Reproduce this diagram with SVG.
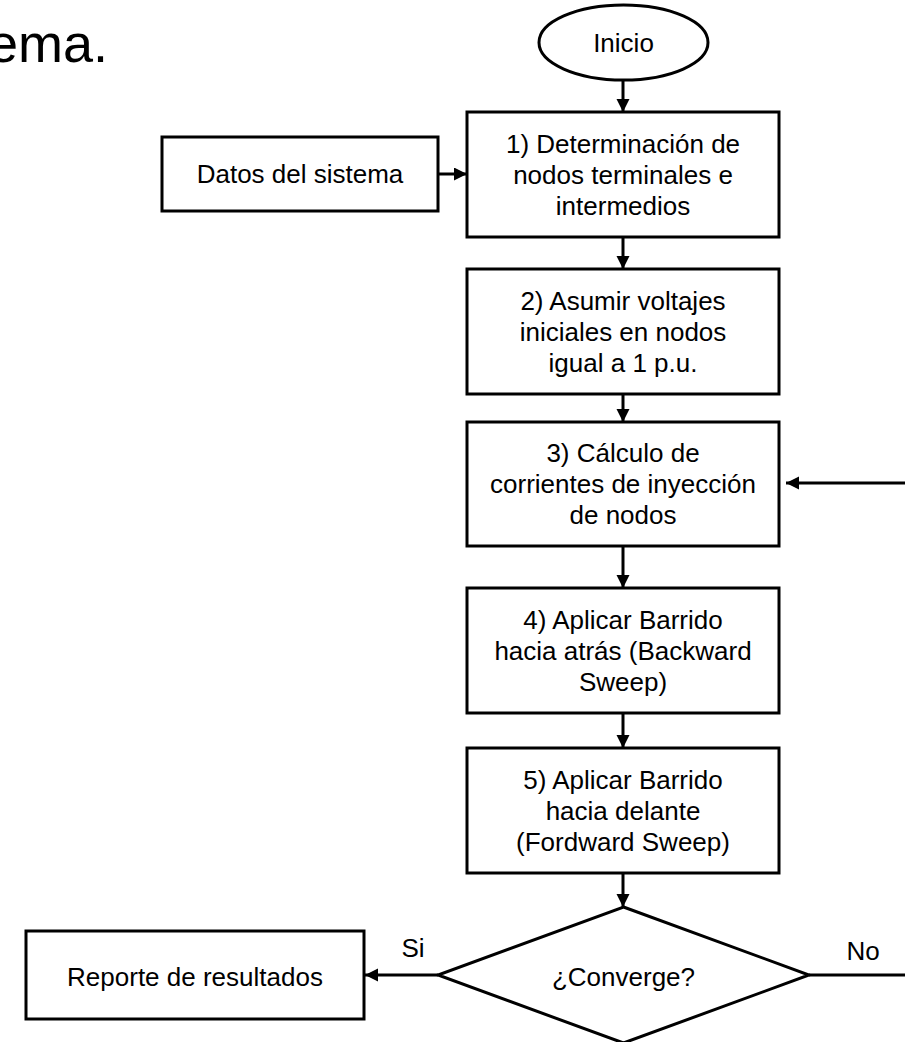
<svg xmlns="http://www.w3.org/2000/svg" width="905" height="1042" viewBox="0 0 905 1042">
<defs>
<style>
.n{fill:#fff;stroke:#000;stroke-width:3}
.t{font-family:"Liberation Sans",Arial,sans-serif;font-size:26px;fill:#000;text-anchor:middle}
.c{fill:none;stroke:#000;stroke-width:3}
</style>
<marker id="ah" markerUnits="userSpaceOnUse" markerWidth="14" markerHeight="14" refX="13" refY="6.5" orient="auto">
<path d="M0,0 L13,6.5 L0,13 z" fill="#000"/>
</marker>
</defs>
<rect width="905" height="1042" fill="#fff"/>
<text x="108" y="62" style="font-family:'Liberation Sans',Arial,sans-serif;font-size:54px;fill:#000;text-anchor:end">ema.</text>
<g id="inicio"><ellipse class="n" cx="623.5" cy="42.5" rx="84.5" ry="37.5"/><text class="t" x="623.5" y="52">Inicio</text></g>
<g id="datos"><rect class="n" x="162" y="137" width="276" height="74"/><text class="t" x="300" y="183">Datos del sistema</text></g>
<g id="paso1"><rect class="n" x="467" y="112" width="312" height="125"/><text class="t" x="623" y="153">1) Determinación de</text><text class="t" x="623" y="184">nodos terminales e</text><text class="t" x="623" y="215">intermedios</text></g>
<g id="paso2"><rect class="n" x="467" y="269" width="312" height="125"/><text class="t" x="623" y="310">2) Asumir voltajes</text><text class="t" x="623" y="341">iniciales en nodos</text><text class="t" x="623" y="372">igual a 1 p.u.</text></g>
<g id="paso3"><rect class="n" x="467" y="422" width="312" height="124"/><text class="t" x="623" y="462">3) Cálculo de</text><text class="t" x="623" y="493">corrientes de inyección</text><text class="t" x="623" y="524">de nodos</text></g>
<g id="paso4"><rect class="n" x="467" y="588" width="312" height="125"/><text class="t" x="623" y="629">4) Aplicar Barrido</text><text class="t" x="623" y="660">hacia atrás (Backward</text><text class="t" x="623" y="691">Sweep)</text></g>
<g id="paso5"><rect class="n" x="467" y="748" width="312" height="125"/><text class="t" x="623" y="789">5) Aplicar Barrido</text><text class="t" x="623" y="820">hacia delante</text><text class="t" x="623" y="851">(Fordward Sweep)</text></g>
<g id="converge"><polygon class="n" points="623.5,907 809,975 623.5,1043 438,975"/><text class="t" x="623.5" y="986">¿Converge?</text></g>
<g id="reporte"><rect class="n" x="26" y="931" width="338" height="88"/><text class="t" x="195" y="986">Reporte de resultados</text></g>
<g id="connectors">
<path class="c" d="M623,80 L623,112" marker-end="url(#ah)"/>
<path class="c" d="M438,174 L467,174" marker-end="url(#ah)"/>
<path class="c" d="M623,237 L623,269" marker-end="url(#ah)"/>
<path class="c" d="M623,394 L623,422" marker-end="url(#ah)"/>
<path class="c" d="M623,546 L623,588" marker-end="url(#ah)"/>
<path class="c" d="M623,713 L623,748" marker-end="url(#ah)"/>
<path class="c" d="M623,873 L623,907" marker-end="url(#ah)"/>
<path class="c" d="M438,975 L365,975" marker-end="url(#ah)"/>
<path class="c" d="M809,975 L905,975"/>
<path class="c" d="M905,483 L786,483" marker-end="url(#ah)"/>
<text class="t" x="413" y="957">Si</text>
<text class="t" x="863" y="960">No</text>
</g>
</svg>
